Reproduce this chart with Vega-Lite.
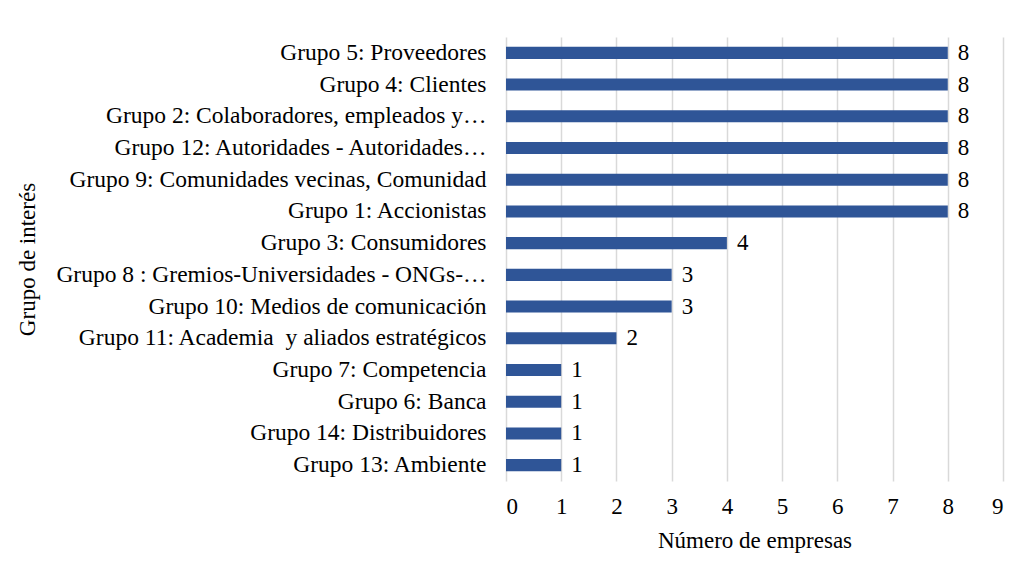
{
  "$schema": "https://vega.github.io/schema/vega-lite/v6.json",
  "autosize": "none",
  "width": 497,
  "height": 444,
  "padding": {"left": 506, "top": 37, "right": 18, "bottom": 92},
  "background": "white",
  "config": {
    "font": "Liberation Serif",
    "view": {"stroke": null}
  },
  "data": {
    "values": [
      {"grupo": "Grupo 5: Proveedores", "n": 8},
      {"grupo": "Grupo 4: Clientes", "n": 8},
      {"grupo": "Grupo 2: Colaboradores, empleados y…", "n": 8},
      {"grupo": "Grupo 12: Autoridades - Autoridades…", "n": 8},
      {"grupo": "Grupo 9: Comunidades vecinas, Comunidad", "n": 8},
      {"grupo": "Grupo 1: Accionistas", "n": 8},
      {"grupo": "Grupo 3: Consumidores", "n": 4},
      {"grupo": "Grupo 8 : Gremios-Universidades - ONGs-…", "n": 3},
      {"grupo": "Grupo 10: Medios de comunicación\u00a0", "n": 3},
      {"grupo": "Grupo 11: Academia\u00a0 y aliados estratégicos", "n": 2},
      {"grupo": "Grupo 7: Competencia", "n": 1},
      {"grupo": "Grupo 6: Banca", "n": 1},
      {"grupo": "Grupo 14: Distribuidores", "n": 1},
      {"grupo": "Grupo 13: Ambiente", "n": 1}
    ]
  },
  "encoding": {
    "y": {
      "field": "grupo",
      "type": "nominal",
      "sort": null,
      "scale": {"paddingInner": 0.62, "paddingOuter": 0.31},
      "axis": {
        "title": "Grupo de interés",
        "titleFont": "Liberation Serif",
        "titleFontSize": 23,
        "titleFontWeight": "normal",
        "titleColor": "#000000",
        "titleX": -479,
        "titleBaseline": "middle",
        "labelFont": "Liberation Serif",
        "labelFontSize": 23.5,
        "labelFontWeight": "normal",
        "labelColor": "#000000",
        "labelPadding": 20,
        "labelLimit": 600,
        "ticks": false,
        "domain": false
      }
    },
    "x": {
      "field": "n",
      "type": "quantitative",
      "scale": {"domain": [0, 9], "nice": false},
      "axis": {
        "title": "Número de empresas",
        "titleFont": "Liberation Serif",
        "titleFontSize": 23,
        "titleFontWeight": "normal",
        "titleColor": "#000000",
        "titlePadding": 11,
        "labelFont": "Liberation Serif",
        "labelFontSize": 23,
        "labelFontWeight": "normal",
        "labelColor": "#000000",
        "labelPadding": 14,
        "values": [0, 1, 2, 3, 4, 5, 6, 7, 8, 9],
        "ticks": false,
        "domain": false,
        "grid": true,
        "gridColor": "#d9d9d9",
        "gridWidth": 1.5
      }
    }
  },
  "layer": [
    {
      "mark": {"type": "bar", "color": "#2F5597"}
    },
    {
      "mark": {"type": "text", "align": "left", "baseline": "middle", "dx": 10, "fontSize": 23, "font": "Liberation Serif", "fontWeight": "normal", "color": "#000000"},
      "encoding": {"text": {"field": "n", "type": "quantitative"}}
    }
  ]
}
